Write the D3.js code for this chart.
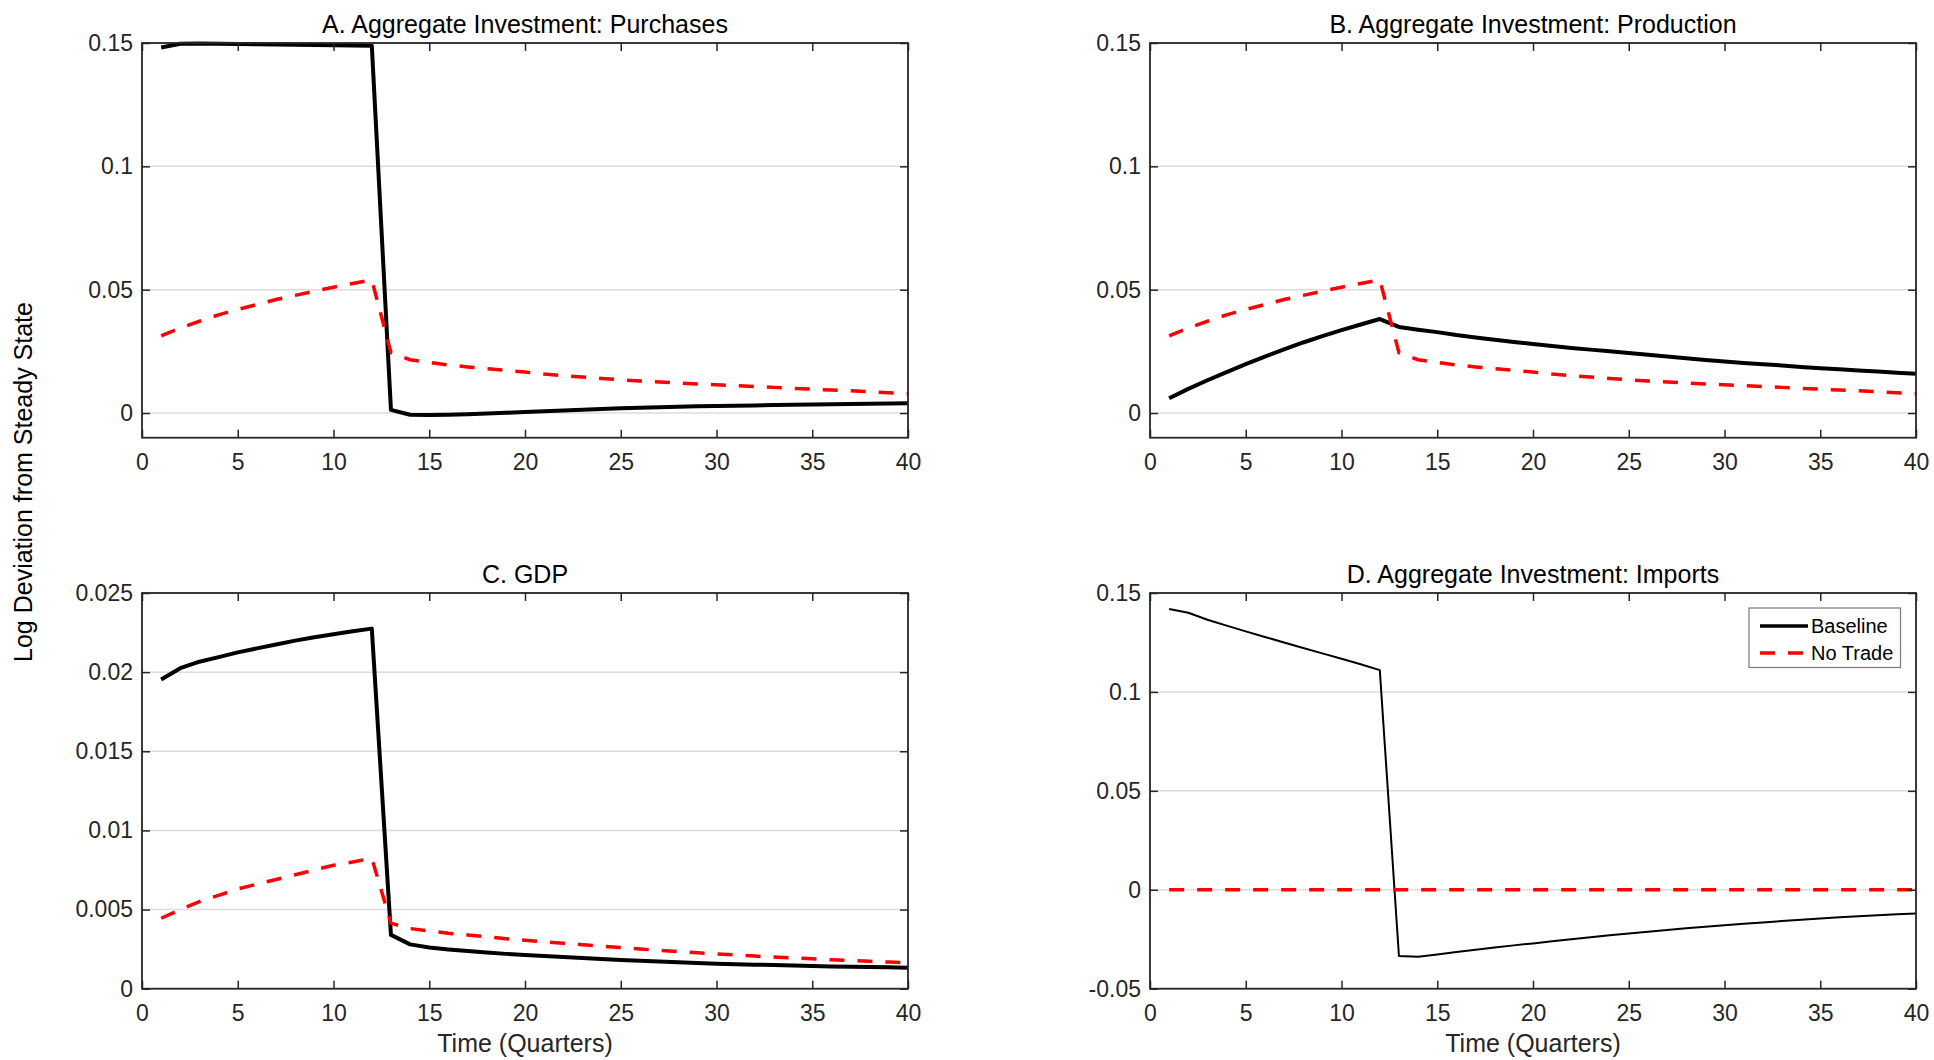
<!DOCTYPE html>
<html>
<head>
<meta charset="utf-8">
<script src="https://cdn.jsdelivr.net/npm/d3@7"></script>
<style>
body { margin:0; background:#fff; }
text { font-family: "Liberation Sans", Arial, Helvetica, sans-serif; }
</style>
</head>
<body>
<div id="chart"></div>
<script>
var quarters = d3.range(1, 41);
var xTicks = [0, 5, 10, 15, 20, 25, 30, 35, 40];
var seriesNames = ["Baseline", "No Trade"];
var panelTitles = ["A. Aggregate Investment: Purchases", "B. Aggregate Investment: Production", "C. GDP", "D. Aggregate Investment: Imports"];

var purchasesBaseline = [0.1482, 0.1497, 0.1498, 0.1497, 0.1496, 0.1495, 0.1494, 0.1493, 0.1492, 0.1491, 0.1490, 0.1489,
    0.0013, -0.0007, -0.0008, -0.0007, -0.0005, -0.0002, 0.0001, 0.0004, 0.0007, 0.0010, 0.0013, 0.0016, 0.0019, 0.0021,
    0.0023, 0.0025, 0.0027, 0.0028, 0.0030, 0.0031, 0.0033, 0.0034, 0.0035, 0.0036, 0.0037, 0.0038, 0.0039, 0.0040];
var noTradeInvestment = [0.0313, 0.0345, 0.0372, 0.0398, 0.0420, 0.0440, 0.0460, 0.0477, 0.0494, 0.0510, 0.0525, 0.0540,
    0.0245, 0.0216, 0.0205, 0.0195, 0.0187, 0.0180, 0.0173, 0.0166, 0.0158, 0.0152, 0.0146, 0.0140, 0.0135, 0.0130,
    0.0126, 0.0122, 0.0118, 0.0115, 0.0111, 0.0107, 0.0104, 0.0100, 0.0097, 0.0093, 0.0090, 0.0086, 0.0082, 0.0078];
var productionBaseline = [0.0060, 0.0098, 0.0133, 0.0166, 0.0198, 0.0229, 0.0258, 0.0286, 0.0312, 0.0336, 0.0359, 0.0381,
    0.0349, 0.0338, 0.0328, 0.0316, 0.0306, 0.0297, 0.0288, 0.0280, 0.0272, 0.0264, 0.0257, 0.0250, 0.0243, 0.0236,
    0.0229, 0.0222, 0.0215, 0.0209, 0.0203, 0.0198, 0.0193, 0.0187, 0.0182, 0.0177, 0.0172, 0.0168, 0.0163, 0.0159];
var gdpBaseline = [0.01954, 0.02025, 0.02066, 0.02095, 0.02125, 0.0215, 0.02175, 0.02199, 0.0222, 0.0224, 0.02258, 0.02275,
    0.0034, 0.0028, 0.0026, 0.00248, 0.00238, 0.00228, 0.0022, 0.00213, 0.00206, 0.0020, 0.00194, 0.00188, 0.00182, 0.00177,
    0.00172, 0.00167, 0.00162, 0.00158, 0.00155, 0.00152, 0.00149, 0.00146, 0.00144, 0.00141, 0.00139, 0.00137, 0.00135, 0.00133];
var gdpNoTrade = [0.00445, 0.0050, 0.0055, 0.0059, 0.0063, 0.0066, 0.0069, 0.0072, 0.0075, 0.0078, 0.0080, 0.00825,
    0.00414, 0.0038, 0.00365, 0.0035, 0.0034, 0.00328, 0.00316, 0.00306, 0.00296, 0.00287, 0.00278, 0.00269, 0.0026, 0.00251,
    0.00242, 0.00234, 0.00227, 0.0022, 0.00213, 0.00206, 0.0020, 0.00194, 0.00189, 0.00183, 0.00178, 0.00173, 0.00168, 0.00163];
var importsBaseline = [0.1419, 0.1400, 0.1365, 0.1335, 0.1306, 0.1278, 0.1250, 0.1222, 0.1195, 0.1168, 0.1140, 0.1110,
    -0.0335, -0.0338, -0.0327, -0.0315, -0.0303, -0.0292, -0.0281, -0.0271, -0.0260, -0.0250, -0.0240, -0.0230, -0.0221, -0.0212,
    -0.0203, -0.0195, -0.0187, -0.0179, -0.0172, -0.0165, -0.0158, -0.0151, -0.0145, -0.0139, -0.0134, -0.0129, -0.0124, -0.0120];
var importsNoTrade = [0, 0, 0, 0, 0, 0, 0, 0, 0, 0, 0, 0, 0, 0, 0, 0, 0, 0, 0, 0,
    0, 0, 0, 0, 0, 0, 0, 0, 0, 0, 0, 0, 0, 0, 0, 0, 0, 0, 0, 0];

var yTicksInvest = [0, 0.05, 0.1, 0.15];
var yTicksGdp = [0, 0.005, 0.01, 0.015, 0.02, 0.025];
var yTicksImports = [-0.05, 0, 0.05, 0.1, 0.15];

var W = 1934, H = 1060;
var axisColor = "#262626", gridColor = "#dcdcdc";

var panels = [
    {title: panelTitles[0], left: 142, right: 908, top: 43, bottom: 437.7, ydom: [-0.01, 0.15], yticks: yTicksInvest,
     base: purchasesBaseline, nt: noTradeInvestment, bw: 4, xlabel: false, legend: false},
    {title: panelTitles[1], left: 1150, right: 1916, top: 43, bottom: 437.7, ydom: [-0.01, 0.15], yticks: yTicksInvest,
     base: productionBaseline, nt: noTradeInvestment, bw: 4, xlabel: false, legend: false},
    {title: panelTitles[2], left: 142, right: 908, top: 593, bottom: 988.7, ydom: [0, 0.025], yticks: yTicksGdp,
     base: gdpBaseline, nt: gdpNoTrade, bw: 4, xlabel: true, legend: false},
    {title: panelTitles[3], left: 1150, right: 1916, top: 593, bottom: 988.7, ydom: [-0.05, 0.15], yticks: yTicksImports,
     base: importsBaseline, nt: importsNoTrade, bw: 2, xlabel: true, legend: true}
];

var svg = d3.select("#chart").append("svg").attr("width", W).attr("height", H);

svg.append("text")
    .attr("transform", "translate(32,482) rotate(-90)")
    .attr("text-anchor", "middle").attr("font-size", 25).attr("fill", "#000")
    .text("Log Deviation from Steady State");

panels.forEach(function(p) {
    var w = p.right - p.left, h = p.bottom - p.top;
    var x = d3.scaleLinear().domain([0, 40]).range([0, w]);
    var y = d3.scaleLinear().domain(p.ydom).range([h, 0]);
    var g = svg.append("g").attr("transform", "translate(" + p.left + "," + p.top + ")");

    // horizontal grid
    g.append("g").selectAll("line").data(p.yticks).enter().append("line")
        .attr("x1", 0).attr("x2", w)
        .attr("y1", function(d) { return y(d); }).attr("y2", function(d) { return y(d); })
        .attr("stroke", gridColor).attr("stroke-width", 1.5);

    var line = d3.line().x(function(d, i) { return x(quarters[i]); }).y(function(d) { return y(d); });

    g.append("path").datum(p.base).attr("d", line)
        .attr("fill", "none").attr("stroke", "#000").attr("stroke-width", p.bw).attr("stroke-linejoin", "round");
    g.append("path").datum(p.nt).attr("d", line)
        .attr("fill", "none").attr("stroke", "#ff0000").attr("stroke-width", 3.5).attr("stroke-dasharray", "15,13");

    // axes with inward ticks on all four sides
    var yl = g.append("g").call(d3.axisLeft(y).tickValues(p.yticks).tickSize(-8).tickPadding(9).tickFormat(function(d) { return String(d); }));
    var yr = g.append("g").attr("transform", "translate(" + w + ",0)")
        .call(d3.axisRight(y).tickValues(p.yticks).tickSize(-8).tickFormat(""));
    var xb = g.append("g").attr("transform", "translate(0," + h + ")")
        .call(d3.axisBottom(x).tickValues(xTicks).tickSize(-8).tickPadding(15.7).tickFormat(function(d) { return String(d); }));
    var xt = g.append("g").call(d3.axisTop(x).tickValues(xTicks).tickSize(-8).tickFormat(""));
    [yl, yr, xb, xt].forEach(function(a) {
        a.select(".domain").remove();
        a.selectAll("line").attr("stroke", axisColor).attr("stroke-width", 1.5);
        a.selectAll("text").attr("font-size", 23).attr("fill", axisColor).attr("font-family", "Liberation Sans, Arial, sans-serif");
    });

    g.append("rect").attr("x", 0).attr("y", 0).attr("width", w).attr("height", h)
        .attr("fill", "none").attr("stroke", axisColor).attr("stroke-width", 1.8);

    g.append("text").attr("x", w / 2).attr("y", -10.5).attr("text-anchor", "middle")
        .attr("font-size", 25).attr("fill", "#000").text(p.title);

    if (p.xlabel) {
        g.append("text").attr("x", w / 2).attr("y", 1052 - p.top).attr("text-anchor", "middle")
            .attr("font-size", 25).attr("fill", axisColor).text("Time (Quarters)");
    }

    if (p.legend) {
        var lg = svg.append("g").attr("transform", "translate(1749,608)");
        lg.append("rect").attr("width", 151.5).attr("height", 59.5)
            .attr("fill", "#fff").attr("stroke", "#7a7a7a").attr("stroke-width", 1.2);
        var rows = lg.selectAll("g.row").data(seriesNames).enter().append("g")
            .attr("transform", function(d, i) { return "translate(0," + (18 + i * 27) + ")"; });
        rows.append("line").attr("x1", 11).attr("x2", 59).attr("y1", 0).attr("y2", 0)
            .attr("stroke", function(d, i) { return i == 0 ? "#000" : "#ff0000"; })
            .attr("stroke-width", 3.5)
            .attr("stroke-dasharray", function(d, i) { return i == 0 ? null : "15,13"; });
        rows.append("text").attr("x", 62).attr("y", 0).attr("dy", "0.35em")
            .attr("font-size", 20).attr("fill", "#000").text(function(d) { return d; });
    }
});
</script>
</body>
</html>
